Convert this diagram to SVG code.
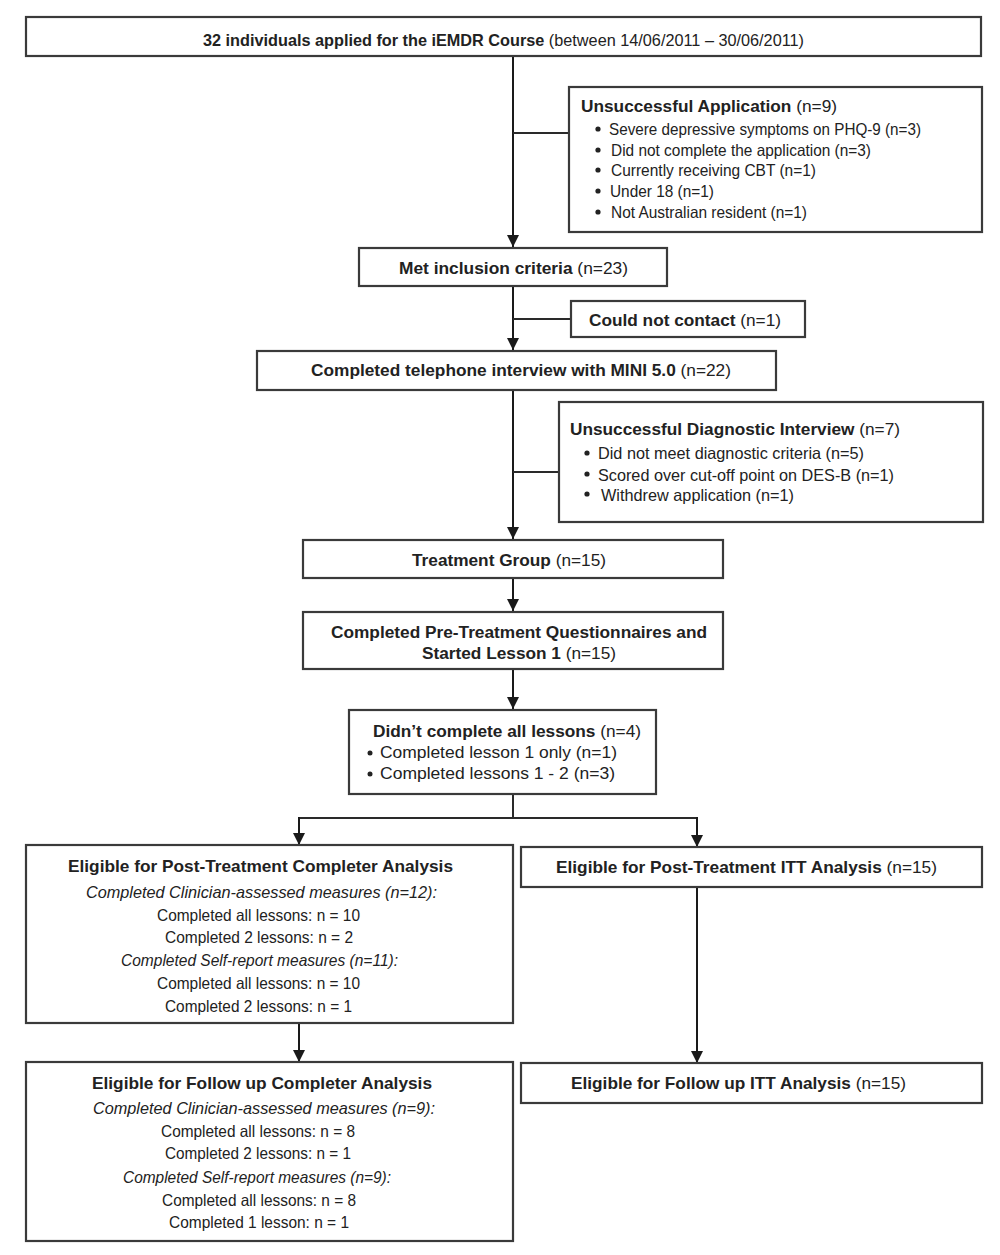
<svg xmlns="http://www.w3.org/2000/svg" width="1000" height="1255" viewBox="0 0 1000 1255">
<defs>
<marker id="ah" viewBox="0 0 12 12" refX="12" refY="6" markerWidth="12" markerHeight="12" markerUnits="userSpaceOnUse" orient="auto">
<path d="M0,0 L12,6 L0,12 z" fill="#1a1a1a"/>
</marker>
<style>
.box{fill:#fff;stroke:#3a3a3a;stroke-width:2.2}
.t{font-family:"Liberation Sans",Arial,sans-serif;font-size:16.5px;fill:#222}
.a{font-family:"Liberation Sans",Arial,sans-serif;font-size:16px;fill:#222}
.b{font-weight:bold}
.i{font-style:italic}
.ln{fill:none;stroke:#2a2a2a;stroke-width:2}
.ar{fill:none;stroke:#1a1a1a;stroke-width:2;marker-end:url(#ah)}
.dot{fill:#222}
</style>
</defs>
<rect width="1000" height="1255" fill="#fff"/>

<g id="connectors">
<path class="ar" d="M513,56 V247"/>
<path class="ln" d="M513,133 H569"/>
<path class="ar" d="M513,286 V350"/>
<path class="ln" d="M513,319 H571"/>
<path class="ar" d="M513,390 V539"/>
<path class="ln" d="M513,472 H559"/>
<path class="ar" d="M513,578 V611"/>
<path class="ar" d="M513,669 V709"/>
<path class="ln" d="M513,794 V818 M298,818 H698"/>
<path class="ar" d="M299,817 V845"/>
<path class="ar" d="M697,817 V847"/>
<path class="ar" d="M299,1023 V1062"/>
<path class="ar" d="M697,887 V1063"/>
</g>

<g id="applied">
<rect class="box" x="26" y="17" width="955" height="39"/>
<text class="t" x="203" y="46" textLength="601" lengthAdjust="spacingAndGlyphs"><tspan class="b">32 individuals applied for the iEMDR Course</tspan> (between 14/06/2011 – 30/06/2011)</text>
</g>

<g id="unsuccessful-application">
<rect class="box" x="569" y="87" width="413" height="145"/>
<text class="t" x="581" y="112" textLength="256" lengthAdjust="spacingAndGlyphs"><tspan class="b">Unsuccessful Application</tspan> (n=9)</text>
<circle class="dot" cx="598" cy="129" r="2.6"/>
<text class="t" x="609" y="135" textLength="312" lengthAdjust="spacingAndGlyphs">Severe depressive symptoms on PHQ-9 (n=3)</text>
<circle class="dot" cx="598" cy="150" r="2.6"/>
<text class="t" x="611" y="156" textLength="260" lengthAdjust="spacingAndGlyphs">Did not complete the application (n=3)</text>
<circle class="dot" cx="598" cy="170" r="2.6"/>
<text class="t" x="611" y="176" textLength="205" lengthAdjust="spacingAndGlyphs">Currently receiving CBT (n=1)</text>
<circle class="dot" cx="598" cy="191" r="2.6"/>
<text class="t" x="610" y="197" textLength="104" lengthAdjust="spacingAndGlyphs">Under 18 (n=1)</text>
<circle class="dot" cx="598" cy="212" r="2.6"/>
<text class="t" x="611" y="218" textLength="196" lengthAdjust="spacingAndGlyphs">Not Australian resident (n=1)</text>
</g>

<g id="met-inclusion">
<rect class="box" x="359" y="248" width="308" height="38"/>
<text class="t" x="399" y="274" textLength="229" lengthAdjust="spacingAndGlyphs"><tspan class="b">Met inclusion criteria</tspan> (n=23)</text>
</g>

<g id="could-not-contact">
<rect class="box" x="571" y="301" width="234" height="36"/>
<text class="t" x="589" y="326" textLength="192" lengthAdjust="spacingAndGlyphs"><tspan class="b">Could not contact</tspan> (n=1)</text>
</g>

<g id="telephone-interview">
<rect class="box" x="257" y="351" width="519" height="39"/>
<text class="t" x="311" y="376" textLength="420" lengthAdjust="spacingAndGlyphs"><tspan class="b">Completed telephone interview with MINI 5.0</tspan> (n=22)</text>
</g>

<g id="unsuccessful-diagnostic">
<rect class="box" x="559" y="402" width="424" height="120"/>
<text class="t" x="570" y="435" textLength="330" lengthAdjust="spacingAndGlyphs"><tspan class="b">Unsuccessful Diagnostic Interview</tspan> (n=7)</text>
<circle class="dot" cx="587" cy="453" r="2.6"/>
<text class="t" x="598" y="459" textLength="266" lengthAdjust="spacingAndGlyphs">Did not meet diagnostic criteria (n=5)</text>
<circle class="dot" cx="587" cy="474" r="2.6"/>
<text class="t" x="598" y="481" textLength="296" lengthAdjust="spacingAndGlyphs">Scored over cut-off point on DES-B (n=1)</text>
<circle class="dot" cx="587" cy="494" r="2.6"/>
<text class="t" x="601" y="501" textLength="193" lengthAdjust="spacingAndGlyphs">Withdrew application (n=1)</text>
</g>

<g id="treatment-group">
<rect class="box" x="303" y="540" width="420" height="38"/>
<text class="a" x="412" y="566" textLength="194" lengthAdjust="spacingAndGlyphs"><tspan class="b">Treatment Group</tspan> (n=15)</text>
</g>

<g id="pre-treatment">
<rect class="box" x="303" y="612" width="420" height="57"/>
<text class="a b" x="331" y="638" textLength="376" lengthAdjust="spacingAndGlyphs">Completed Pre-Treatment Questionnaires and</text>
<text class="a" x="422" y="659" textLength="194" lengthAdjust="spacingAndGlyphs"><tspan class="b">Started Lesson 1</tspan> (n=15)</text>
</g>

<g id="not-complete">
<rect class="box" x="349" y="710" width="307" height="84"/>
<text class="a" x="373" y="737" textLength="268" lengthAdjust="spacingAndGlyphs"><tspan class="b">Didn’t complete all lessons</tspan> (n=4)</text>
<circle class="dot" cx="370" cy="753" r="2.5"/>
<text class="a" x="380" y="758" textLength="237" lengthAdjust="spacingAndGlyphs">Completed lesson 1 only (n=1)</text>
<circle class="dot" cx="370" cy="774" r="2.5"/>
<text class="a" x="380" y="779" textLength="235" lengthAdjust="spacingAndGlyphs">Completed lessons 1 - 2 (n=3)</text>
</g>

<g id="post-completer">
<rect class="box" x="26" y="845" width="487" height="178"/>
<text class="t b" x="68" y="872" textLength="385" lengthAdjust="spacingAndGlyphs">Eligible for Post-Treatment Completer Analysis</text>
<text class="t i" x="86" y="898" textLength="351" lengthAdjust="spacingAndGlyphs">Completed Clinician-assessed measures (n=12):</text>
<text class="t" x="157" y="921" textLength="203" lengthAdjust="spacingAndGlyphs">Completed all lessons: n = 10</text>
<text class="t" x="165" y="943" textLength="188" lengthAdjust="spacingAndGlyphs">Completed 2 lessons: n = 2</text>
<text class="t i" x="121" y="966" textLength="277" lengthAdjust="spacingAndGlyphs">Completed Self-report measures (n=11):</text>
<text class="t" x="157" y="989" textLength="203" lengthAdjust="spacingAndGlyphs">Completed all lessons: n = 10</text>
<text class="t" x="165" y="1012" textLength="187" lengthAdjust="spacingAndGlyphs">Completed 2 lessons: n = 1</text>
</g>

<g id="post-itt">
<rect class="box" x="521" y="847" width="461" height="40"/>
<text class="t" x="556" y="873" textLength="381" lengthAdjust="spacingAndGlyphs"><tspan class="b">Eligible for Post-Treatment ITT Analysis</tspan> (n=15)</text>
</g>

<g id="followup-completer">
<rect class="box" x="26" y="1062" width="487" height="179"/>
<text class="t b" x="92" y="1089" textLength="340" lengthAdjust="spacingAndGlyphs">Eligible for Follow up Completer Analysis</text>
<text class="t i" x="93" y="1114" textLength="342" lengthAdjust="spacingAndGlyphs">Completed Clinician-assessed measures (n=9):</text>
<text class="t" x="161" y="1137" textLength="194" lengthAdjust="spacingAndGlyphs">Completed all lessons: n = 8</text>
<text class="t" x="165" y="1159" textLength="186" lengthAdjust="spacingAndGlyphs">Completed 2 lessons: n = 1</text>
<text class="t i" x="123" y="1183" textLength="268" lengthAdjust="spacingAndGlyphs">Completed Self-report measures (n=9):</text>
<text class="t" x="162" y="1206" textLength="194" lengthAdjust="spacingAndGlyphs">Completed all lessons: n = 8</text>
<text class="t" x="169" y="1228" textLength="180" lengthAdjust="spacingAndGlyphs">Completed 1 lesson: n = 1</text>
</g>

<g id="followup-itt">
<rect class="box" x="521" y="1063" width="461" height="40"/>
<text class="t" x="571" y="1089" textLength="335" lengthAdjust="spacingAndGlyphs"><tspan class="b">Eligible for Follow up ITT Analysis</tspan> (n=15)</text>
</g>
</svg>
